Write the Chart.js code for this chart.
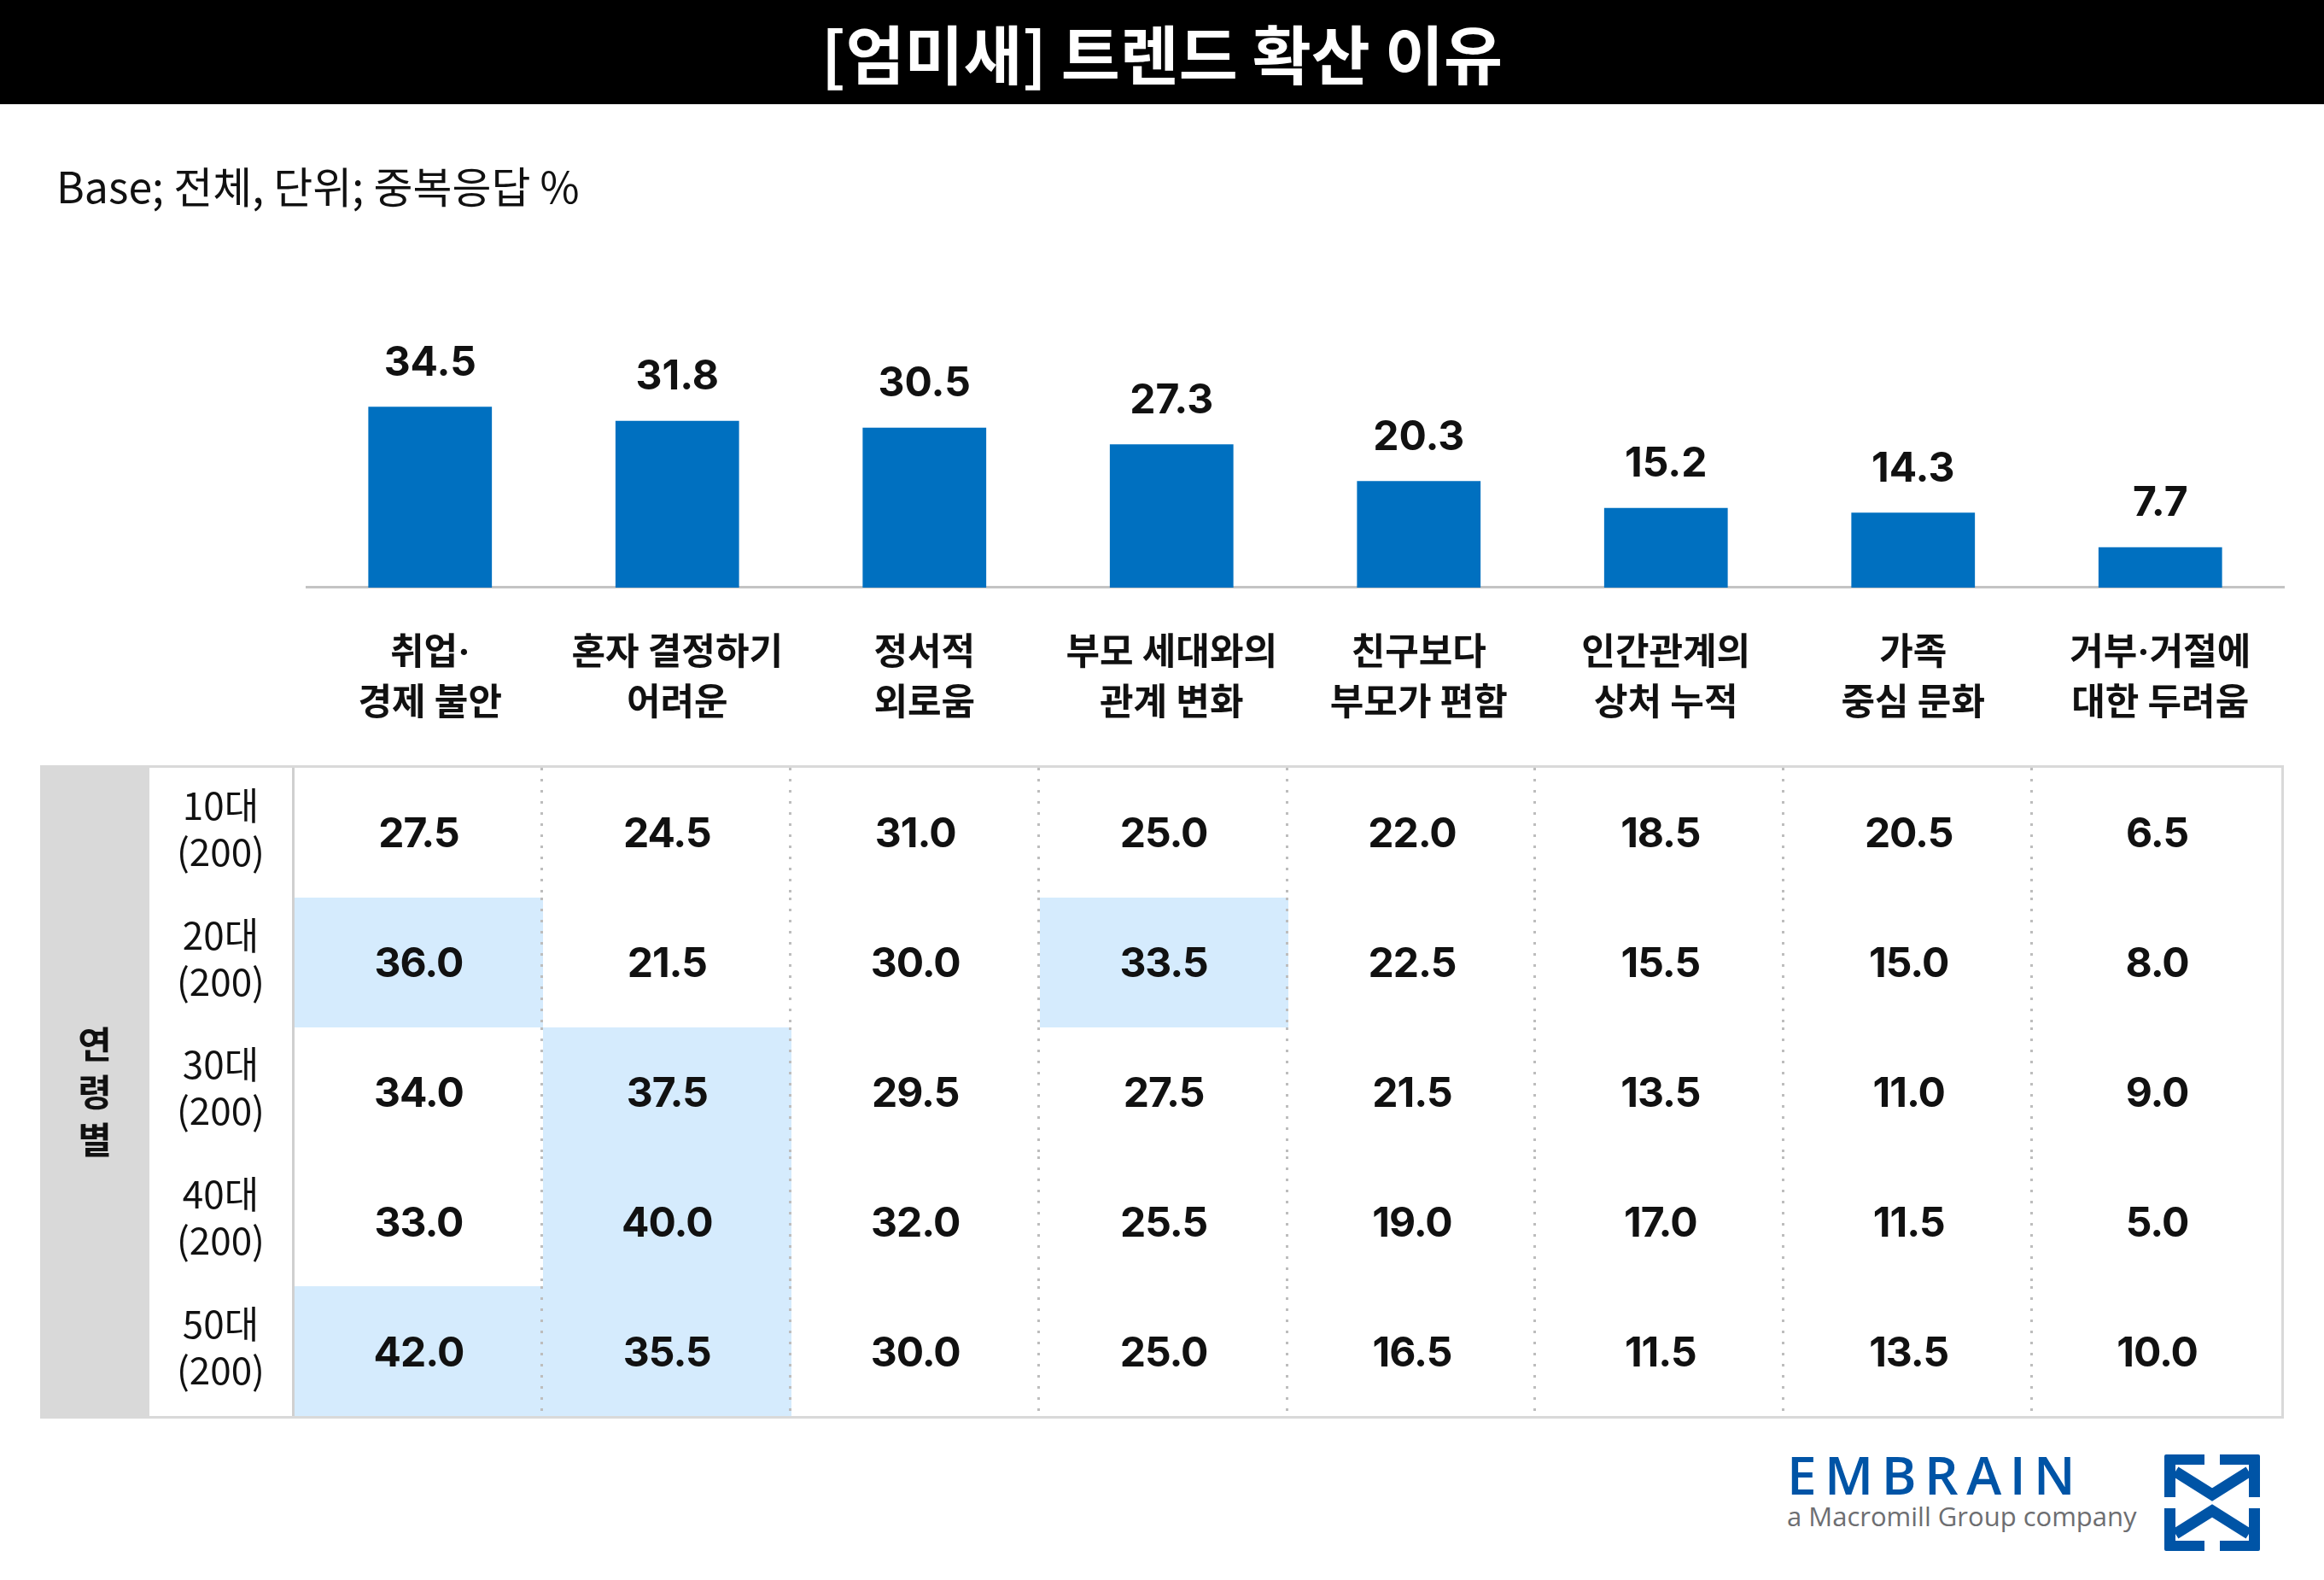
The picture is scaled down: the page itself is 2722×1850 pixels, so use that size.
<!DOCTYPE html>
<html><head><meta charset="utf-8">
<script src="https://cdn.jsdelivr.net/npm/chart.js@4"></script>
<style>
html,body{margin:0;padding:0;background:#fff;width:2722px;height:1850px;overflow:hidden;}
#title{position:absolute;left:0;top:0;width:2722px;height:122px;background:#000;color:#fff;font:700 75px 'Noto Sans CJK KR';text-align:center;line-height:122px;}
#sub{position:absolute;left:66px;top:184px;font:400 50px 'Noto Sans CJK KR';color:#111;line-height:64px;white-space:nowrap;}
#wrap{position:absolute;left:0;top:130px;width:2722px;height:772px;}
#tbl{position:absolute;left:47px;top:896px;width:2628px;height:765px;box-sizing:border-box;border-top:3px solid #d9d9d9;border-bottom:3px solid #d9d9d9;border-right:3px solid #d9d9d9;display:grid;grid-template-columns:128px 170px repeat(8,1fr);grid-template-rows:repeat(5,1fr);}
.grp{grid-row:1 / span 5;grid-column:1;background:#d9d9d9;display:flex;flex-direction:column;align-items:center;justify-content:center;font:700 43px 'Noto Sans CJK KR';color:#111;line-height:56px;padding-bottom:6px;}
.rl{border-right:3px solid #d0d0d0;display:flex;flex-direction:column;align-items:center;justify-content:center;font:400 44px 'Noto Sans CJK KR';color:#111;line-height:54px;padding-bottom:14px;}
.c{display:flex;align-items:center;justify-content:center;font:700 48px 'Inter';color:#111;letter-spacing:-1px;
   background-image:linear-gradient(to bottom,#bdbdbd 3px,transparent 3px);background-size:3px 13px;background-repeat:repeat-y;background-position:right top;}
.c.last{background-image:none;}
.c.hi{background-color:#d5ebfd;}
#logo{position:absolute;left:2093px;top:1694px;}
#emb{font:600 62px 'Open Sans';color:#0054a6;letter-spacing:9.5px;line-height:64px;}
#mac{font:400 31px 'Open Sans';color:#6d6e71;line-height:40px;margin-top:-3px;}
#icon{position:absolute;left:2535px;top:1703px;width:112px;height:113px;}
</style></head>
<body>
<div id="title">[엄미새] 트렌드 확산 이유</div>
<div id="sub">Base; 전체, 단위; 중복응답 %</div>
<div id="wrap"><canvas id="c" width="2722" height="772"></canvas></div>
<div id="tbl"></div>
<div id="logo"><div id="emb">EMBRAIN</div><div id="mac">a Macromill Group company</div></div>
<svg id="icon" viewBox="0 0 112 113">
 <g fill="#0054a6">
  <path d="M0,2 Q0,0 2,0 H47 V12 H13 V50 H0 Z"/>
  <path d="M112,2 Q112,0 110,0 H65 V12 H99 V50 H112 Z"/>
  <polyline points="13,20 56,47 99,20" fill="none" stroke="#0054a6" stroke-width="13" stroke-linejoin="miter"/>
 </g>
 <g fill="#0054a6" transform="translate(0,113) scale(1,-1)">
  <path d="M0,2 Q0,0 2,0 H47 V12 H13 V50 H0 Z"/>
  <path d="M112,2 Q112,0 110,0 H65 V12 H99 V50 H112 Z"/>
  <polyline points="13,20 56,47 99,20" fill="none" stroke="#0054a6" stroke-width="13" stroke-linejoin="miter"/>
 </g>
</svg>
<script>
const categories = [
  ['취업·','경제 불안'],
  ['혼자 결정하기','어려운'],
  ['정서적','외로움'],
  ['부모 세대와의','관계 변화'],
  ['친구보다','부모가 편함'],
  ['인간관계의','상처 누적'],
  ['가족','중심 문화'],
  ['거부·거절에','대한 두려움']
];
const totals = [34.5, 31.8, 30.5, 27.3, 20.3, 15.2, 14.3, 7.7];
const groupLabel = '연령별';
const ageGroups = ['10대','20대','30대','40대','50대'];
const baseSizes = [200, 200, 200, 200, 200];
const age10 = [27.5, 24.5, 31.0, 25.0, 22.0, 18.5, 20.5, 6.5];
const age20 = [36.0, 21.5, 30.0, 33.5, 22.5, 15.5, 15.0, 8.0];
const age30 = [34.0, 37.5, 29.5, 27.5, 21.5, 13.5, 11.0, 9.0];
const age40 = [33.0, 40.0, 32.0, 25.5, 19.0, 17.0, 11.5, 5.0];
const age50 = [42.0, 35.5, 30.0, 25.0, 16.5, 11.5, 13.5, 10.0];
const hi10 = [0,0,0,0,0,0,0,0];
const hi20 = [1,0,0,1,0,0,0,0];
const hi30 = [0,1,0,0,0,0,0,0];
const hi40 = [0,1,0,0,0,0,0,0];
const hi50 = [1,1,0,0,0,0,0,0];

// table
const rows = [age10, age20, age30, age40, age50];
const his = [hi10, hi20, hi30, hi40, hi50];
const tbl = document.getElementById('tbl');
const g = document.createElement('div'); g.className = 'grp';
groupLabel.split('').forEach(ch => { const s = document.createElement('div'); s.textContent = ch; g.appendChild(s); });
tbl.appendChild(g);
rows.forEach((r, ri) => {
  const l = document.createElement('div'); l.className = 'rl';
  l.style.gridRow = (ri + 1); l.style.gridColumn = 2;
  l.innerHTML = '<div>' + ageGroups[ri] + '</div><div>(' + baseSizes[ri] + ')</div>';
  tbl.appendChild(l);
  r.forEach((v, ci) => {
    const c = document.createElement('div');
    c.className = 'c' + (his[ri][ci] ? ' hi' : '') + (ci === r.length - 1 ? ' last' : '');
    c.style.gridRow = (ri + 1); c.style.gridColumn = ci + 3;
    c.textContent = v.toFixed(1);
    tbl.appendChild(c);
  });
});

const valueLabels = {
  id: 'valueLabels',
  afterDatasetsDraw(chart) {
    const ctx = chart.ctx;
    const meta = chart.getDatasetMeta(0);
    ctx.save();
    ctx.font = '700 48px Inter';
    ctx.fillStyle = '#111';
    ctx.textAlign = 'center';
    ctx.textBaseline = 'middle';
    meta.data.forEach((bar, i) => {
      ctx.fillText(totals[i].toFixed(1), bar.x, bar.y - 51);
    });
    ctx.restore();
  }
};

new Chart(document.getElementById('c'), {
  type: 'bar',
  data: {
    labels: categories,
    datasets: [{ data: totals, backgroundColor: '#0070c0', borderWidth: 0, barPercentage: 0.5, categoryPercentage: 1.0 }]
  },
  options: {
    responsive: false,
    devicePixelRatio: 1,
    animation: false,
    layout: { padding: { left: 359, right: 47, top: 312.4, bottom: 1.2 } },
    plugins: { legend: { display: false }, tooltip: { enabled: false } },
    scales: {
      x: {
        grid: { display: false, drawTicks: false },
        border: { display: true, color: '#c4c4c4', width: 3 },
        ticks: { color: '#111', padding: 47.5, maxRotation: 0, autoSkip: false,
          font: { family: "Inter, 'Noto Sans CJK KR'", size: 43, weight: '700', lineHeight: 1.37 } }
      },
      y: { display: false, min: 0, max: 40 }
    }
  },
  plugins: [valueLabels]
});
</script>
</body></html>
